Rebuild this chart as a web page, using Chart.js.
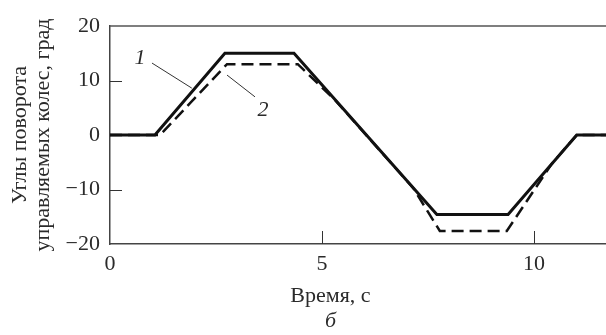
<!DOCTYPE html>
<html>
<head>
<meta charset="utf-8">
<script src="https://cdn.jsdelivr.net/npm/chart.js@4"></script>
<style>
  html, body { margin: 0; padding: 0; background: #fff; }
  #wrap { width: 606px; height: 335px; }
</style>
</head>
<body>
<div id="wrap"><canvas id="myChart"></canvas></div>
<script>
// curve 1 (solid) and curve 2 (dashed), time in s, angle in degrees
const times1 = [0, 1.06, 2.71, 4.34, 7.71, 9.39, 11.01, 11.7];
const angles1 = [0, 0, 15, 15, -14.6, -14.6, 0, 0];
const times2 = [0, 1.18, 2.76, 4.43, 5.31, 7.15, 7.78, 9.36, 10.42, 11.01, 11.7];
const angles2 = [0, 0, 13, 13, 6.4, -9.7, -17.6, -17.6, -5.3, 0, 0];

const xTicks = [0, 5, 10];
const yTicks = [-20, -10, 0, 10, 20];

const xTitle = "Время, с";
const yTitle = ["Углы поворота", "управляемых колес, град"];
const caption = "б";

// curve labels with their leader lines (time, angle)
const notes = [
  { text: "1", at: [0.71, 14.1], from: [0.99, 13.2], to: [1.93, 8.6] },
  { text: "2", at: [3.61, 4.6], from: [3.42, 7.0], to: [2.76, 11.0] },
];

const ink = "#2a2a2a";
const serif = "'Liberation Serif', 'Times New Roman', serif";
const fs = 22;

function toPoints(xs, ys) {
  return xs.map((x, i) => ({ x: x, y: ys[i] }));
}

const frame = {
  id: "frame",
  afterDatasetsDraw(chart) {
    const c = chart.ctx;
    const a = chart.chartArea;
    const xs = chart.scales.x;
    const ys = chart.scales.y;
    c.save();
    c.strokeStyle = "#555";
    c.lineWidth = 1.5;
    c.beginPath();
    c.moveTo(a.left, a.top);
    c.lineTo(a.right, a.top);
    c.stroke();

    // inward tick marks
    c.lineWidth = 1;
    c.strokeStyle = "#333";
    ys.ticks.forEach((t) => {
      if (t.value === ys.min || t.value === ys.max || t.value === 0) return;
      const y = Math.round(ys.getPixelForValue(t.value)) + 0.5;
      c.beginPath();
      c.moveTo(a.left, y);
      c.lineTo(a.left + 12, y);
      c.stroke();
    });
    xs.ticks.forEach((t) => {
      if (t.value === xs.min || t.value === xs.max) return;
      const x = Math.round(xs.getPixelForValue(t.value)) + 0.5;
      c.beginPath();
      c.moveTo(x, a.bottom);
      c.lineTo(x, a.bottom - 13);
      c.stroke();
    });

    // curve numbers
    c.fillStyle = ink;
    c.font = "italic " + fs + "px " + serif;
    c.textAlign = "center";
    c.textBaseline = "middle";
    notes.forEach((n) => {
      c.beginPath();
      c.moveTo(xs.getPixelForValue(n.from[0]), ys.getPixelForValue(n.from[1]));
      c.lineTo(xs.getPixelForValue(n.to[0]), ys.getPixelForValue(n.to[1]));
      c.stroke();
      c.fillText(n.text, xs.getPixelForValue(n.at[0]), ys.getPixelForValue(n.at[1]));
    });

    // axis title and figure caption, centred under the drawn part of the axis
    const cx = xs.getPixelForValue(5.2);
    c.font = fs + "px " + serif;
    c.fillText(xTitle, cx, a.bottom + 52);
    c.font = "italic " + fs + "px " + serif;
    c.fillText(caption, cx, a.bottom + 77);
    c.restore();
  },
};

const ctx = document.getElementById("myChart");

const myChart = new Chart(ctx, {
  type: "line",
  data: {
    datasets: [
      {
        label: "1",
        data: toPoints(times1, angles1),
        borderColor: "#111",
        borderWidth: 3,
        pointRadius: 0,
        tension: 0,
      },
      {
        label: "2",
        data: toPoints(times2, angles2),
        borderColor: "#111",
        borderWidth: 2.5,
        borderDash: [12, 6],
        pointRadius: 0,
        tension: 0,
      },
    ],
  },
  options: {
    responsive: true,
    maintainAspectRatio: false,
    animation: false,
    layout: { padding: { top: 26, right: 0, left: 0, bottom: 0 } },
    plugins: {
      legend: { display: false },
      tooltip: { enabled: false },
    },
    scales: {
      x: {
        type: "linear",
        min: 0,
        max: 11.7,
        afterBuildTicks: (s) => { s.ticks = xTicks.map((v) => ({ value: v })); },
        afterFit: (s) => { s.height = 91; },
        grid: { display: false, drawTicks: false },
        border: { display: true, color: "#444", width: 1.5 },
        ticks: {
          color: ink,
          padding: 7,
          maxRotation: 0,
          font: { family: serif, size: fs },
        },
      },
      y: {
        min: -20,
        max: 20,
        afterBuildTicks: (s) => { s.ticks = yTicks.map((v) => ({ value: v })); },
        afterFit: (s) => { s.width = 110; },
        grid: { display: false, drawTicks: false },
        border: { display: true, color: "#444", width: 1.5 },
        ticks: {
          color: ink,
          padding: 10,
          font: { family: serif, size: fs },
          callback: (v) => String(v).replace("-", "\u2212"),
        },
        title: {
          display: true,
          text: yTitle,
          color: ink,
          font: { family: serif, size: fs, lineHeight: 1.08 },
          padding: { top: 8, bottom: 0 },
        },
      },
    },
  },
  plugins: [frame],
});
</script>
</body>
</html>
